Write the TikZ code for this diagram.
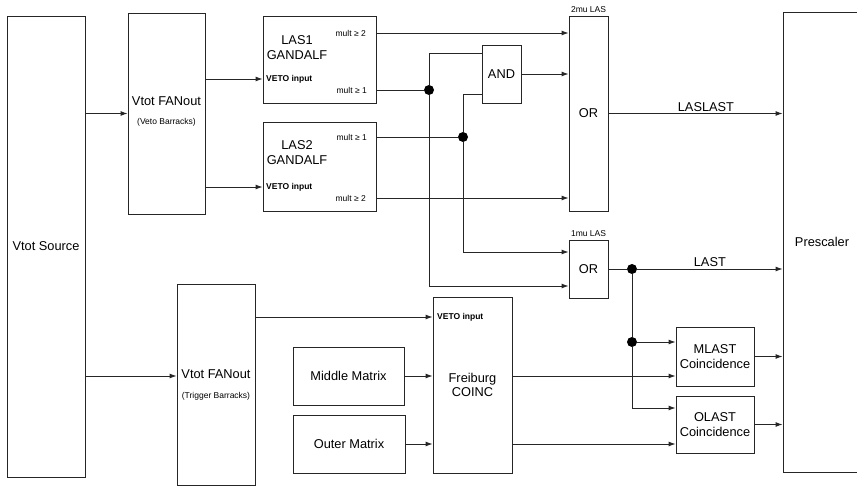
\documentclass[tikz,border=0pt]{standalone}
\usepackage{fontspec}
\setmainfont{Liberation Sans}
\usetikzlibrary{arrows.meta}

\tikzset{
  blk/.style={draw=black!85, line width=0.9pt, inner sep=0pt, align=center,
    font=\fontsize{12.8}{14.5}\selectfont},
  big/.style={font=\fontsize{12.8}{14.5}\selectfont, inner sep=1.5pt, align=center},
  tiny/.style={font=\fontsize{8.5}{10}\selectfont, inner sep=0pt},
  veto/.style={font=\fontsize{8.5}{10}\selectfont\bfseries, inner sep=0pt, anchor=west},
  wire/.style={draw=black!85, line width=0.9pt},
  dot/.style={circle, fill=black, inner sep=0pt, minimum size=10pt},
}

\begin{document}
\begin{tikzpicture}[x=1pt, y=-1pt, >={Latex[length=7pt,width=5pt]}]
    \useasboundingbox (0,0) rectangle (857,486);

    % sources and fan-outs
    \node[blk, minimum width=78pt, minimum height=461pt] (src) at (46,246.5) {Vtot Source};
    \node[blk, minimum width=77pt, minimum height=201pt] (vfan) at (166.5,113.5) {};
    \node[big] at (166.5,101) {Vtot FANout};
    \node[tiny] at (166.5,122) {(Veto Barracks)};
    \node[blk, minimum width=78pt, minimum height=201pt] (tfan) at (216,384.5) {};
    \node[big] at (216,374) {Vtot FANout};
    \node[tiny] at (216,396) {(Trigger Barracks)};

    % GANDALF modules
    \node[blk, minimum width=113pt, minimum height=87pt] (las1) at (319.5,59.5) {};
    \node[big] at (297,47.5) {LAS1\\GANDALF};
    \node[veto] (v1) at (266,79) {VETO input};
    \node[tiny, anchor=east] (m12) at (366,33) {mult ≥ 2};
    \node[tiny, anchor=east] (m11) at (367,90) {mult ≥ 1};
    \node[blk, minimum width=113pt, minimum height=89pt] (las2) at (319.5,166.5) {};
    \node[big] at (297,152.5) {LAS2\\GANDALF};
    \node[veto] (v2) at (266,187) {VETO input};
    \node[tiny, anchor=east] (m21) at (367,137) {mult ≥ 1};
    \node[tiny, anchor=east] (m22) at (366,198) {mult ≥ 2};

    % logic
    \node[blk, minimum width=39pt, minimum height=58pt] (and) at (501.5,74) {AND};
    \node[blk, minimum width=39pt, minimum height=195pt,
          label={[tiny, label distance=3pt]above:2mu LAS}] (or2) at (588.5,113.5) {OR};
    \node[blk, minimum width=39pt, minimum height=58pt,
          label={[tiny, label distance=3pt]above:1mu LAS}] (or1) at (588.5,269) {OR};
    \node[blk, minimum width=200pt, minimum height=460pt] (presc) at (883,242) {};
    \node[big] at (822,242) {Prescaler};

    % trigger side
    \node[blk, minimum width=79pt, minimum height=176pt] (frei) at (472.5,385) {Freiburg\\COINC};
    \node[veto] (fv) at (437,317) {VETO input};
    \node[blk, minimum width=111pt, minimum height=58pt] (mmat) at (348.5,376) {Middle Matrix};
    \node[blk, minimum width=112pt, minimum height=58pt] (omat) at (349,444) {Outer Matrix};
    \node[blk, minimum width=78pt, minimum height=59pt] (mlast) at (715,356.5) {MLAST\\Coincidence};
    \node[blk, minimum width=78pt, minimum height=57pt] (olast) at (715,424.5) {OLAST\\Coincidence};

    % junctions
    \node[dot] (d1) at (429,90) {};
    \node[dot] (d2) at (463,137) {};
    \node[dot] (d3) at (632,269) {};
    \node[dot] (d4) at (632,342) {};

    % connections
    \draw[wire,->] (src.east |- vfan.west) -- (vfan.west);
    \draw[wire,->] (src.east |- mmat.west) -- (tfan.west |- mmat.west);
    \draw[wire,->] (vfan.east |- v1.west) -- (las1.west |- v1.west);
    \draw[wire,->] (vfan.east |- v2.west) -- (las2.west |- v2.west);
    \draw[wire,->] (las1.east |- m12.east) -- (or2.west |- m12.east);
    \draw[wire] (las1.east |- m11.east) -- (d1);
    \draw[wire] (d1) |- ([yshift=21pt]and.west);
    \draw[wire,->] (d1) |- ([yshift=-17pt]or1.west);
    \draw[wire] (las2.east |- m21.east) -- (d2);
    \draw[wire] (d2) |- ([yshift=-20pt]and.west);
    \draw[wire,->] (d2) |- ([yshift=17pt]or1.west);
    \draw[wire,->] (and.east) -- (or2.west |- and.east);
    \draw[wire,->] (las2.east |- m22.east) -- (or2.west |- m22.east);
    \draw[wire,->] (or2.east) -- node[big, above, pos=0.56] {LASLAST} (presc.west |- or2.east);
    \draw[wire] (or1.east) -- (d3);
    \draw[wire,->] (d3) -- node[big, above] {LAST} (presc.west |- d3);
    \draw[wire] (d3) -- (d4);
    \draw[wire,->] (d4) -- (mlast.west |- d4);
    \draw[wire,->] (d4) |- ([yshift=16.5pt]olast.west);
    \draw[wire,->] (tfan.east |- fv.west) -- (frei.west |- fv.west);
    \draw[wire,->] (mmat.east) -- (frei.west |- mmat.east);
    \draw[wire,->] (omat.east) -- (frei.west |- omat.east);
    \draw[wire,->] (frei.east |- mmat.east) -- (mlast.west |- mmat.east);
    \draw[wire,->] (frei.east |- omat.east) -- (olast.west |- omat.east);
    \draw[wire,->] (mlast.east) -- (presc.west |- mlast.east);
    \draw[wire,->] (olast.east) -- (presc.west |- olast.east);
\end{tikzpicture}
\end{document}
